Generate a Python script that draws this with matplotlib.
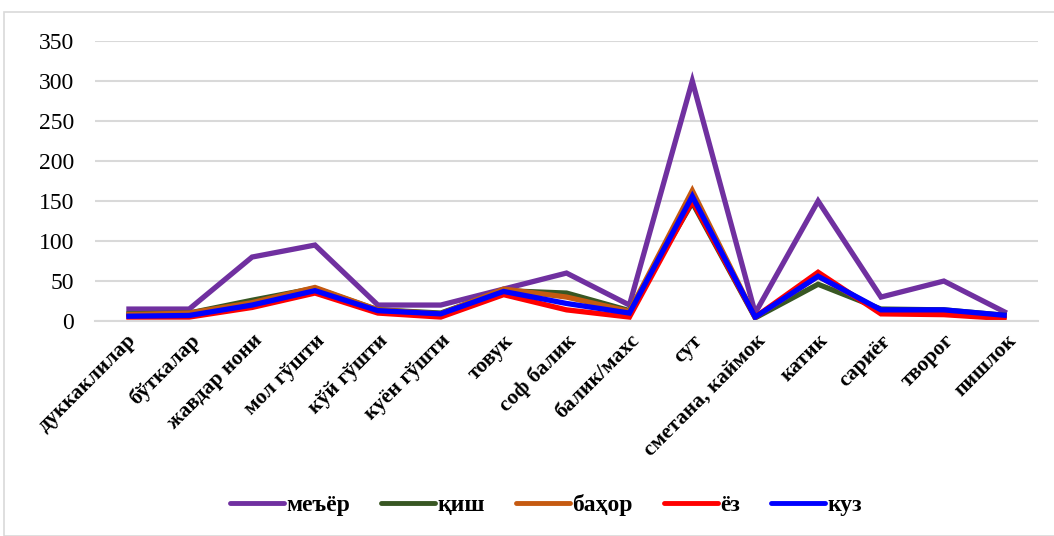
import matplotlib
matplotlib.use("Agg")
import matplotlib.pyplot as plt
from matplotlib.patches import Rectangle

# food groups along the x axis
categories = [
    "дуккаклилар", "бўткалар", "жавдар нони", "мол гўшти", "кўй гўшти",
    "куён гўшти", "товук", "соф балик", "балик/махс", "сут",
    "сметана, каймок", "катик", "сариёғ", "творог", "пишлок",
]

# norm and seasonal consumption
meyor = [15, 15, 80, 95, 20, 20, 40, 60, 20, 300, 10, 150, 30, 50, 10]
qish = [9, 10, 26, 41, 14, 10, 38, 35, 13, 148, 4, 46, 15, 14, 7]
bahor = [8, 10, 23, 42, 14, 9, 40, 30, 12, 163, 5, 56, 13, 13, 6]
yoz = [5, 5, 17, 35, 10, 5, 33, 14, 5, 150, 5, 61, 9, 8, 3]
kuz = [6, 7, 20, 38, 13, 9, 37, 22, 10, 156, 5, 56, 14, 14, 7]

series = [
    ("меъёр", meyor, "#7030A0"),
    ("қиш", qish, "#385723"),
    ("баҳор", bahor, "#C55A11"),
    ("ёз", yoz, "#FF0000"),
    ("куз", kuz, "#0000FF"),
]

plt.rcParams["font.family"] = ["Liberation Serif", "DejaVu Serif"]

fig = plt.figure(figsize=(10.54, 5.36), dpi=100)
fig.patches.append(Rectangle((4 / 1054, 0), 1.2, (536 - 12) / 536,
                             transform=fig.transFigure, fill=False,
                             edgecolor="#D9D9D9", linewidth=1.2))

ax = fig.add_axes([0.090, 0.401, 0.895, 0.5225])
x = list(range(len(categories)))
for name, vals, color in series:
    ax.plot(x, vals, color=color, linewidth=3.8, label=name,
            solid_joinstyle="miter", solid_capstyle="butt")

ax.set_xlim(-0.5, len(categories) - 0.5)
ax.set_ylim(0, 350)
ax.set_yticks(range(0, 351, 50))
ax.set_xticks(x)
ax.set_xticklabels(categories, rotation=45, ha="right", va="top",
                   rotation_mode="anchor", fontsize=15.5, fontweight="bold")
ax.tick_params(axis="y", labelsize=17, length=0, pad=15)
ax.tick_params(axis="x", length=0, pad=7)
ax.grid(axis="y", color="#D9D9D9", linewidth=1.5)
ax.set_axisbelow(True)
for side in ["top", "right", "left"]:
    ax.spines[side].set_visible(False)
ax.spines["bottom"].set_color("#D9D9D9")
ax.spines["bottom"].set_linewidth(1.5)

leg = fig.legend(loc="center", bbox_to_anchor=(0.518, 0.058), ncol=5,
                 frameon=False, prop={"size": 17, "weight": "bold"},
                 handlelength=2.3, handletextpad=0.1, columnspacing=1.3)
for line in leg.get_lines():
    line.set_linewidth(3.5)
    line.set_solid_capstyle("round")

fig.savefig("out.png", dpi=100)
